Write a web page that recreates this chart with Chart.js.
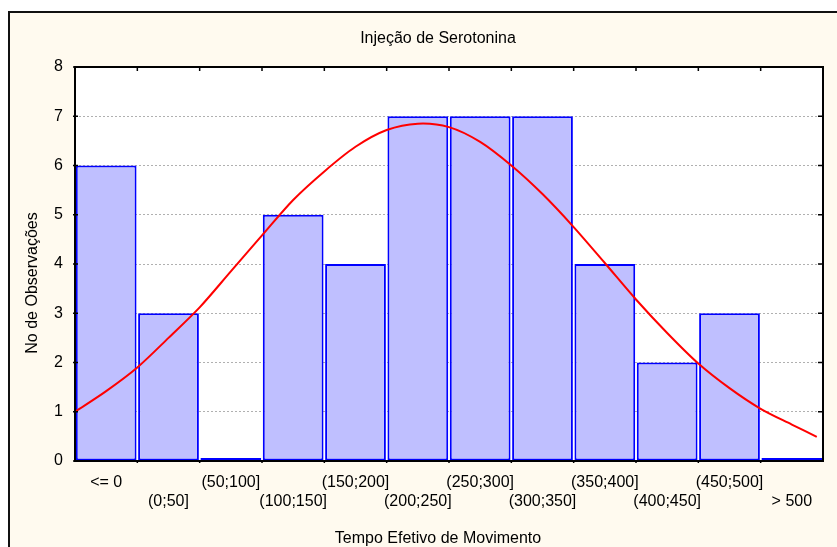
<!DOCTYPE html>
<html>
<head>
<meta charset="utf-8">
<script src="https://cdn.jsdelivr.net/npm/chart.js@4.4.1/dist/chart.umd.min.js"></script>
<style>
  html, body { margin: 0; padding: 0; background: #ffffff; }
  #wrap { width: 837px; height: 547px; position: relative; }
</style>
</head>
<body>
<div id="wrap"><canvas id="histChart" width="837" height="547"></canvas></div>
<script>
// categorias do histograma (linha 1 / linha 2 alternadas)
const classes = ['<= 0', '(0;50]', '(50;100]', '(100;150]', '(150;200]', '(200;250]',
                 '(250;300]', '(300;350]', '(350;400]', '(400;450]', '(450;500]', '> 500'];
const counts = [6, 3, 0, 5, 4, 7, 7, 7, 4, 2, 3, 0];

// curva normal ajustada (posicao em unidades de classe, valor lido)
const curveX = [0, 0.5, 1, 1.5, 2, 2.5, 3, 3.5, 4, 4.5, 5, 5.5, 6,
                6.5, 7, 7.5, 8, 8.5, 9, 9.5, 10, 10.5, 11, 11.5, 11.9];
const curveY = [1.00, 1.42, 1.90, 2.50, 3.12, 3.85, 4.58, 5.30, 5.88, 6.38, 6.72, 6.85, 6.78,
                6.48, 6.00, 5.42, 4.75, 4.02, 3.28, 2.60, 1.98, 1.48, 1.06, 0.74, 0.49];

const yTicks = [0, 1, 2, 3, 4, 5, 6, 7, 8];

const chartTitle = 'Injeção de Serotonina';
const xTitle = 'Tempo Efetivo de Movimento';
const yTitle = 'No de Observações';

const FONT = '"Liberation Sans", Arial, sans-serif';

// fundo creme + moldura, area do grafico branca
const framePlugin = {
    id: 'frame',
    beforeDraw(chart) {
        const c = chart.ctx, a = chart.chartArea;
        c.save();
        c.fillStyle = '#ffffff';
        c.fillRect(0, 0, chart.width, chart.height);
        c.fillStyle = '#fffaef';
        c.fillRect(9, 11, chart.width - 9, chart.height - 11);
        c.strokeStyle = '#111111';
        c.lineWidth = 2;
        c.beginPath();
        c.moveTo(9, chart.height);
        c.lineTo(9, 12);
        c.lineTo(chart.width, 12);
        c.stroke();
        c.fillStyle = '#ffffff';
        c.fillRect(a.left, a.top, a.right - a.left, a.bottom - a.top);
        c.restore();
    },
    afterDraw(chart) {
        const c = chart.ctx, a = chart.chartArea;
        const xs = chart.scales.x, ys = chart.scales.y;
        c.save();
        c.strokeStyle = '#000000';
        c.lineWidth = 2;
        c.strokeRect(a.left, a.top, a.right - a.left, a.bottom - a.top);
        // marcas internas
        c.lineWidth = 1.5;
        c.beginPath();
        for (let i = 1; i < classes.length; i++) {
            const px = (xs.getPixelForValue(i - 1) + xs.getPixelForValue(i)) / 2;
            c.moveTo(px, a.top);
            c.lineTo(px, a.top + 4);
            c.moveTo(px, a.bottom);
            c.lineTo(px, a.bottom + 2);
        }
        yTicks.forEach(v => {
            const py = ys.getPixelForValue(v);
            c.moveTo(a.right, py);
            c.lineTo(a.right - 5, py);
            c.moveTo(a.left - 2, py);
            c.lineTo(a.left + 3, py);
        });
        c.stroke();
        // titulos
        c.fillStyle = '#000000';
        c.font = '16px ' + FONT;
        c.textAlign = 'center';
        c.textBaseline = 'alphabetic';
        c.fillText(chartTitle, 438, 43);
        c.fillText(xTitle, 438, 543);
        c.translate(37, 283);
        c.rotate(-Math.PI / 2);
        c.fillText(yTitle, 0, 0);
        c.restore();
    }
};

const ctx = document.getElementById('histChart').getContext('2d');
const histChart = new Chart(ctx, {
    type: 'bar',
    data: {
        labels: classes.map((t, i) => i % 2 === 0 ? [t] : ['', t]),
        datasets: [{
            type: 'line',
            label: 'Normal',
            data: curveX.map((x, i) => ({ x: x, y: curveY[i] })),
            xAxisID: 'xc',
            borderColor: '#ff0000',
            borderWidth: 2,
            pointRadius: 0,
            tension: 0.3,
            fill: false,
            order: 0
        }, {
            type: 'bar',
            label: 'No de Observações',
            data: counts,
            xAxisID: 'x',
            grouped: false,
            backgroundColor: '#bfbfff',
            borderColor: '#0000ff',
            borderWidth: 2,
            borderSkipped: false,
            minBarLength: 3,
            barPercentage: 0.975,
            categoryPercentage: 1,
            order: 1
        }]
    },
    options: {
        responsive: false,
        animation: false,
        layout: { padding: { top: 67, right: 14, left: 0, bottom: 0 } },
        plugins: {
            legend: { display: false },
            title: { display: false },
            tooltip: { enabled: false }
        },
        scales: {
            x: {
                type: 'category',
                offset: true,
                afterFit: s => { s.height = 86; },
                grid: { display: false, drawTicks: false },
                border: { display: false },
                ticks: {
                    autoSkip: false,
                    maxRotation: 0,
                    minRotation: 0,
                    padding: 12,
                    color: '#000000',
                    font: { family: FONT, size: 16 }
                }
            },
            xc: {
                type: 'linear',
                min: 0,
                max: 12,
                offset: false,
                display: false
            },
            y: {
                min: 0,
                max: 8,
                afterFit: s => { s.width = 75; },
                afterBuildTicks: s => { s.ticks = yTicks.map(v => ({ value: v })); },
                grid: {
                    drawTicks: false,
                    color: c => (c.tick && (c.tick.value === 0 || c.tick.value === 8)) ? 'rgba(0,0,0,0)' : '#b0b0b0',
                    lineWidth: 1
                },
                border: { display: false, dash: [2, 2] },
                ticks: {
                    padding: 12,
                    color: '#000000',
                    font: { family: FONT, size: 16 }
                }
            }
        }
    },
    plugins: [framePlugin]
});
</script>
</body>
</html>
